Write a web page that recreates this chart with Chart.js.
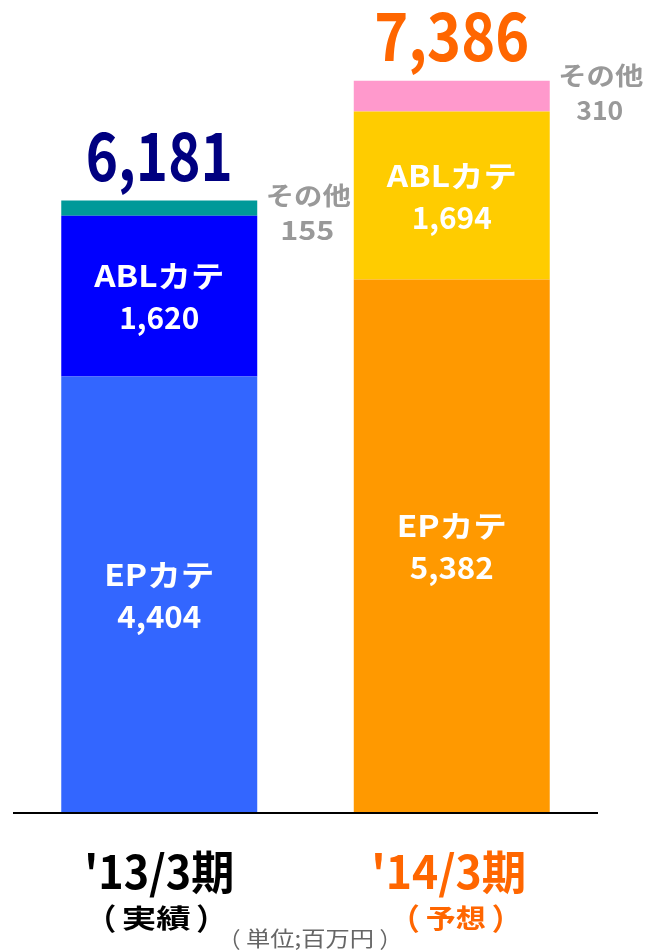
<!DOCTYPE html>
<html>
<head>
<meta charset="utf-8">
<script src="https://cdn.jsdelivr.net/npm/chart.js@4/dist/chart.umd.min.js"></script>
<style>
html,body{margin:0;padding:0;background:#fff;}
#wrap{width:645px;height:950px;}
</style>
</head>
<body>
<div id="wrap"><canvas id="c" width="645" height="950"></canvas></div>
<script>
// ---- data ----
const categories = ["'13/3期", "'14/3期"];
const subLabels = ["実績", "予想"];
const seriesNames = ["EPカテ", "ABLカテ", "その他"];
const epValues = [4404, 5382];
const ablValues = [1620, 1694];
const otherValues = [155, 310];
const totalLabels = ["6,181", "7,386"];
const unitLabel = "単位;百万円";

// ---- styles ----
const epColors = ["#3366FF", "#FF9900"];
const ablColors = ["#0000FF", "#FFCC00"];
const otherColors = ["#009999", "#FF99CC"];
const totalColors = ["#000080", "#FF6600"];
const catColors = ["#000000", "#FF6600"];
const FONT = '"Noto Sans CJK JP", "Noto Sans", sans-serif';

function fmt(v){ return v.toLocaleString('en-US'); }

function drawFit(ctx, text, cx, y, size, weight, color, width){
  ctx.save();
  ctx.font = weight + ' ' + size + 'px ' + FONT;
  ctx.fillStyle = color;
  ctx.textAlign = 'center';
  ctx.textBaseline = 'alphabetic';
  const w = ctx.measureText(text).width;
  const sx = width ? width / w : 1;
  ctx.translate(cx, y);
  ctx.scale(sx, 1);
  ctx.fillText(text, 0, 0);
  ctx.restore();
}

// text wrapped in full-width parentheses, with the bracket inks placed at given offsets
function drawParen(ctx, inner, cx, y, size, psize, weight, color, innerW, half){
  drawFit(ctx, inner, cx, y, size, weight, color, innerW);
  const off = psize * 0.2;
  const py = y + psize * 0.06;
  drawFit(ctx, '（', cx - half - off, py, psize, weight, color);
  drawFit(ctx, '）', cx + half + off, py, psize, weight, color);
}

const labelPlugin = {
  id: 'labels',
  afterDatasetsDraw(chart){
    const ctx = chart.ctx;
    const area = chart.chartArea;
    // baseline
    ctx.save();
    ctx.strokeStyle = '#000';
    ctx.lineWidth = 2;
    ctx.beginPath();
    ctx.moveTo(area.left, area.bottom);
    ctx.lineTo(area.right, area.bottom);
    ctx.stroke();
    ctx.restore();

    const epMeta = chart.getDatasetMeta(0).data;
    const ablMeta = chart.getDatasetMeta(1).data;
    const othMeta = chart.getDatasetMeta(2).data;
    for (let i = 0; i < categories.length; i++){
      const ep = epMeta[i], abl = ablMeta[i], oth = othMeta[i];
      // EP
      const epC = (ep.y + ep.base) / 2;
      drawFit(ctx, seriesNames[0], ep.x, epC - 9, 30, 'bold', '#fff', 110);
      drawFit(ctx, fmt(epValues[i]), ep.x, epC + 33, 30, 'bold', '#fff', 84);
      // ABL
      const ablC = (abl.y + abl.base) / 2;
      drawFit(ctx, seriesNames[1], abl.x, ablC - 9, 30, 'bold', '#fff', 130);
      drawFit(ctx, fmt(ablValues[i]), abl.x, ablC + 33, 30, 'bold', '#fff', 80);
      // other (outside right)
      const right = oth.x + oth.width / 2;
      drawFit(ctx, seriesNames[2], right + 51, oth.y + 4, 25, 'bold', '#999999', 85);
      drawFit(ctx, fmt(otherValues[i]), right + 50, oth.y + 39, 26, 'bold', '#999999', i === 0 ? 54 : 47);
      // total
      drawFit(ctx, totalLabels[i], oth.x, oth.y - 20, 66, 'bold', totalColors[i], i === 0 ? 147 : 155);
      // category labels
      drawFit(ctx, categories[i], ep.x + (i === 0 ? 0 : -3), area.bottom + 76, 46, 'bold', catColors[i], i === 0 ? 150 : 155);
      if (i === 0) {
        drawParen(ctx, subLabels[i], ep.x - 3, area.bottom + 115, 26, 30, 'bold', catColors[i], 69, 49);
      } else {
        drawParen(ctx, subLabels[i], ep.x + 4, area.bottom + 115, 26, 30, 'bold', catColors[i], 60, 45);
      }
    }
    drawParen(ctx, unitLabel, 310, area.bottom + 133, 21, 22, 'normal', '#666666', 128, 76);
  }
};

new Chart(document.getElementById('c'), {
  type: 'bar',
  data: {
    labels: categories,
    datasets: [
      { label: seriesNames[0], data: epValues, backgroundColor: epColors, borderWidth: 0 },
      { label: seriesNames[1], data: ablValues, backgroundColor: ablColors, borderWidth: 0 },
      { label: seriesNames[2], data: otherValues, backgroundColor: otherColors, borderWidth: 0 }
    ]
  },
  options: {
    responsive: false,
    animation: false,
    layout: { padding: { left: 13, right: 47, top: 20, bottom: 137 } },
    datasets: { bar: { barPercentage: 0.67, categoryPercentage: 1.0 } },
    plugins: { legend: { display: false }, tooltip: { enabled: false } },
    scales: {
      x: { stacked: true, display: false },
      y: { stacked: true, display: false, min: 0, max: 8000 }
    }
  },
  plugins: [labelPlugin]
});
</script>
</body>
</html>
